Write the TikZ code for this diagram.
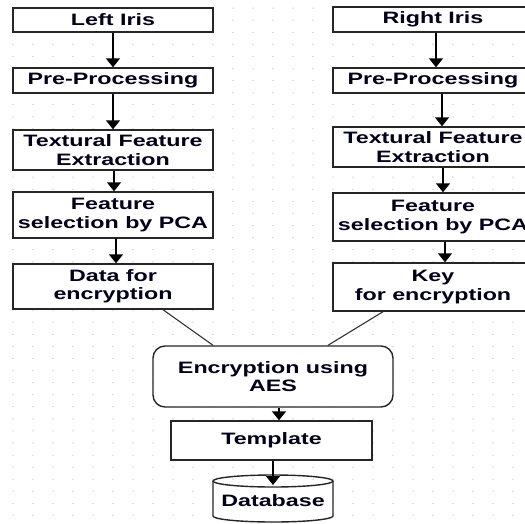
\documentclass[tikz,border=0pt]{standalone}
\usepackage{fontspec}
\setmainfont{Liberation Sans}[FakeStretch=1.41]
\usetikzlibrary{arrows.meta}
\begin{document}
\begin{tikzpicture}[x=1pt,y=-1pt,
  lab/.style={font=\fontsize{16.5}{18.3}\selectfont\bfseries, text=black!90!blue, align=center},
  box/.style={lab, draw=black!85, line width=1.4pt, fill=white, minimum width=200pt, inner sep=0pt},
  arr/.style={draw=black, line width=1.6pt, -{Triangle[length=9pt,width=14pt]}},
  link/.style={draw=black!80, line width=1.1pt}]
\useasboundingbox (0,0) rectangle (525,523);
\clip (0,0) rectangle (525,523);
\fill[white] (0,0) rectangle (525,523);
% dotted grid
\foreach \i in {0,...,25}{
  \foreach \j in {0,...,42}{
    \fill[black!22] (13+20*\i, 8.1+12.08*\j) circle (0.75);
  }
}
% left column
\node[box, minimum height=24pt] (L1) at (113,20) {Left Iris};
\node[box, minimum height=25pt] (L2) at (113,80.5) {Pre-Processing};
\node[box, minimum height=40pt] (L3) at (113,150) {Textural Feature\\Extraction};
\node[box, minimum height=46pt] (L4) at (113,215) {Feature\\selection by PCA};
\node[box, minimum height=45pt] (L5) at (113,286.5) {Data for\\encryption};
% right column
\node[box, minimum height=25pt] (R1) at (433,19.5) {Right Iris};
\node[box, minimum height=25pt] (R2) at (433,80.5) {Pre-Processing};
\node[box, minimum height=40pt] (R3) at (433,147) {Textural Feature\\Extraction};
\node[box, minimum height=48pt] (R4) at (433,217) {Feature\\selection by PCA};
\node[box, minimum height=48pt] (R5) at (433,287) {Key\\for encryption};
% centre
\node[box, minimum width=240pt, minimum height=61pt, rounded corners=12pt] (E) at (273,376.5) {Encryption using\\AES};
\node[box, minimum width=201pt, minimum height=39pt] (T) at (271.5,440.5) {Template};
% database cylinder
\fill[white] (213,481) -- (213,516) arc[start angle=180,end angle=0,x radius=60,y radius=6] -- (333,481) arc[start angle=0,end angle=180,x radius=60,y radius=6] -- cycle;
\draw[black!85, line width=1.4pt] (213,481) -- (213,516) arc[start angle=180,end angle=0,x radius=60,y radius=6] -- (333,481);
\draw[black!85, line width=1.4pt] (273,481) ellipse [x radius=60, y radius=6];
\node[lab, minimum width=120pt, minimum height=30pt, inner sep=0pt] (D) at (273,501) {Database};
\coordinate (Dtop) at (273,485);
% arrows
\draw[arr] (L1.south) -- (L2.north);
\draw[arr] (L2.south) -- (L3.north);
\draw[arr] ([xshift=1pt]L3.south) -- ([xshift=1pt]L4.north);
\draw[arr] ([xshift=3pt]L4.south) -- ([xshift=3pt]L5.north);
\draw[arr] ([xshift=3pt]R1.south) -- ([xshift=3pt]R2.north);
\draw[arr] ([xshift=9pt]R2.south) -- ([xshift=9pt]R3.north);
\draw[arr] ([xshift=10pt]R3.south) -- ([xshift=10pt]R4.north);
\draw[arr] ([xshift=12pt]R4.south) -- ([xshift=12pt]R5.north);
\draw[link] ([xshift=50pt]L5.south) -- ([xshift=-60pt]E.north);
\draw[link] ([xshift=-50pt]R5.south) -- ([xshift=55pt]E.north);
\draw[arr] ([xshift=6pt]E.south) -- ([xshift=7.5pt]T.north);
\draw[arr] ([xshift=1.5pt]T.south) -- (Dtop);
\end{tikzpicture}
\end{document}
